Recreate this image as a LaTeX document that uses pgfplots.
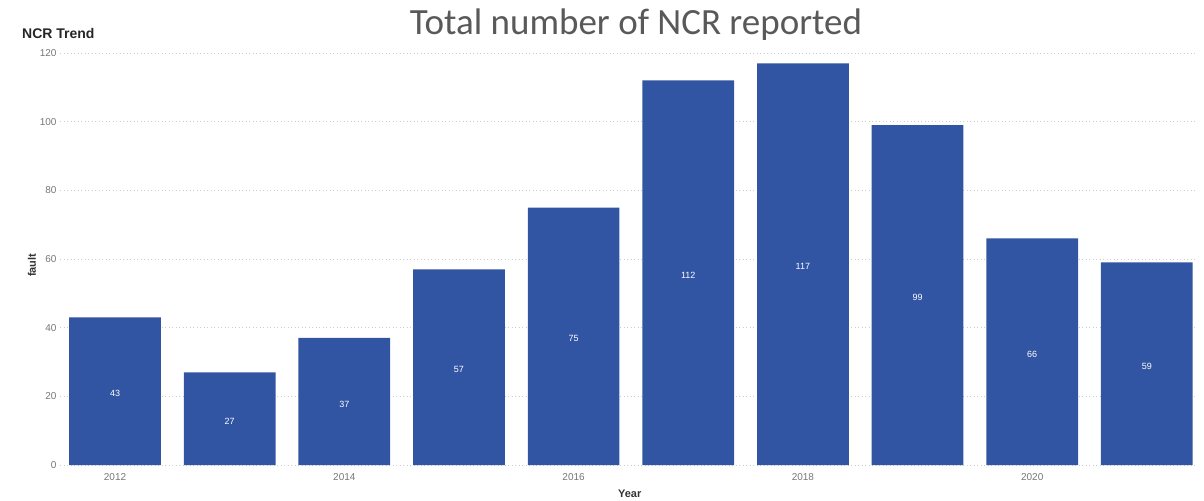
\documentclass[border=0pt]{standalone}
\usepackage{pgfplots}
\pgfplotsset{compat=1.18}
\usepackage{pgfplotstable}
\usepackage{fontspec}
\setmainfont{Liberation Sans}
\newfontfamily\titlefont{Carlito}
\usetikzlibrary{calc}
\definecolor{barblue}{HTML}{3154A3}
\definecolor{ticklab}{HTML}{767676}
\definecolor{titlegray}{HTML}{595959}
\pgfplotstableread{
x v h
2012 43 21.5
2013 27 13.5
2014 37 18.5
2015 57 28.5
2016 75 37.5
2017 112 56
2018 117 58.5
2019 99 49.5
2020 66 33
2021 59 29.5
}\data
\begin{document}
\begin{tikzpicture}
\begin{axis}[
  scale only axis, width=1135pt, height=412pt,
  xmin=2011.52, xmax=2021.42, ymin=0, ymax=120,
  xtick={2012,2014,2016,2018,2020},
  ytick={0,20,...,120},
  /pgf/number format/assume math mode=true,
  /pgf/number format/1000 sep={},
  ymajorgrids, grid style={dash pattern=on 0.9pt off 2.6pt, draw=gray!40, line width=0.9pt},
  axis line style={draw=none}, major tick length=0pt,
  tick label style={font=\fontsize{10}{12}\selectfont, text=ticklab},
  xticklabel style={yshift=-5pt},
  xlabel={Year}, ylabel={fault},
  xlabel style={font=\fontsize{11}{13}\selectfont\bfseries, text=black!80, at={(axis description cs:0.502,-0.07)}, anchor=center},
  ylabel style={font=\fontsize{11}{13}\selectfont\bfseries, text=black!80, at={(axis description cs:-0.0247,0.485)}, anchor=center, rotate=0},
  clip=false,
]
\addplot[ybar, bar width=0.8, fill=barblue, draw=none] table[x=x,y=v]{\data};
\addplot[draw=none, mark=none, nodes near coords, point meta=explicit symbolic,
  every node near coord/.style={anchor=center, yshift=-2.5pt, text=white, font=\fontsize{9}{10}\selectfont}]
  table[x=x,y=h,meta=v]{\data};
\node[font=\titlefont\fontsize{37}{40}\selectfont, text=titlegray, anchor=center] at (axis description cs:0.5075,1.07) {Total number of NCR reported};
\node[font=\fontsize{14}{16}\selectfont\bfseries, text=black!85, anchor=west, inner sep=0pt] at (axis description cs:-0.0335,1.0485) {NCR Trend};
\end{axis}
\pgfresetboundingbox
\path[use as bounding box] ($(current axis.south west)+(-60pt,-35pt)$) rectangle ($(current axis.north east)+(9pt,53pt)$);
\end{tikzpicture}
\end{document}
